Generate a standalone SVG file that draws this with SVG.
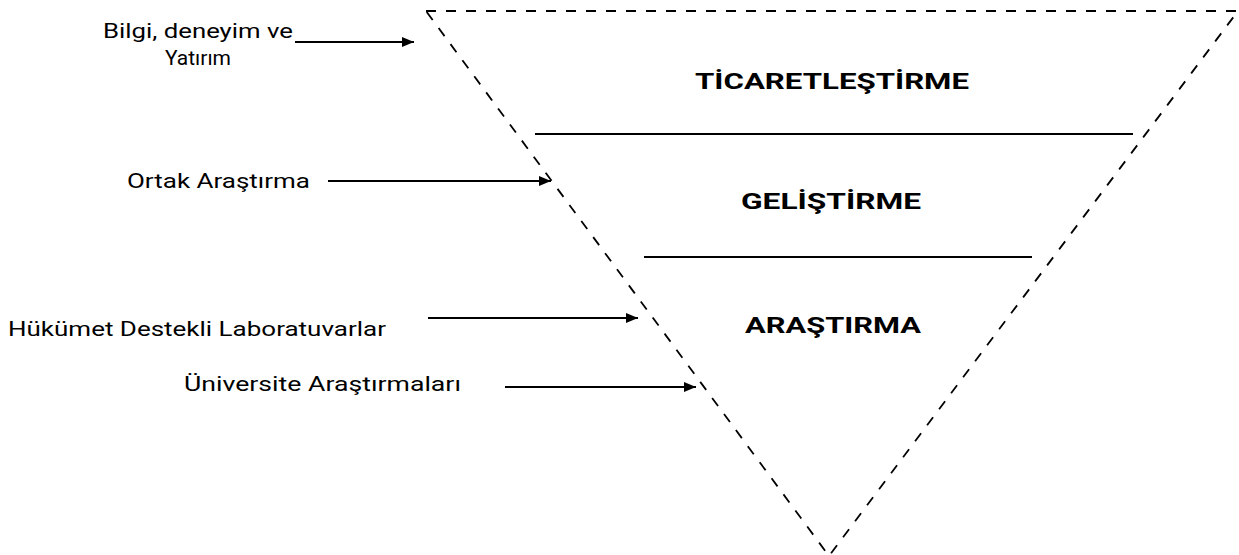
<svg xmlns="http://www.w3.org/2000/svg" width="1239" height="555" viewBox="0 0 1239 555">
<style>
.lbl{font-family:Roboto,"Liberation Sans",Arial,sans-serif;font-size:21px;fill:#000}
.hd{font-family:Roboto,"Liberation Sans",Arial,sans-serif;font-size:22px;font-weight:bold;fill:#000;text-anchor:middle}
.arr{stroke:#000;stroke-width:2;fill:none;marker-end:url(#ah)}
.div{stroke:#000;stroke-width:2}
</style>
<defs>
<marker id="ah" viewBox="0 0 12 10" refX="12" refY="5" markerWidth="12" markerHeight="10" markerUnits="userSpaceOnUse" orient="auto">
<path d="M0,0 L12,5 L0,10 Z" fill="#000"/>
</marker>
</defs>
<rect width="1239" height="555" fill="#fff"/>
<g id="pyramid">
<path d="M426,11 L1238,11 L829,556 Z" fill="none" stroke="#000" stroke-width="1.8" stroke-dasharray="10,10"/>
<line class="div" x1="535" y1="134" x2="1133" y2="134"/>
<line class="div" x1="644" y1="257" x2="1032" y2="257"/>
</g>
<g id="ticaret"><text class="hd" x="832" y="89" textLength="274" lengthAdjust="spacingAndGlyphs">TİCARETLEŞTİRME</text></g>
<g id="gelistirme"><text class="hd" x="831" y="209" textLength="180" lengthAdjust="spacingAndGlyphs">GELİŞTİRME</text></g>
<g id="arastirma"><text class="hd" x="833" y="333" textLength="176" lengthAdjust="spacingAndGlyphs">ARAŞTIRMA</text></g>
<g id="bilgi">
<text class="lbl" x="103" y="38" textLength="190" lengthAdjust="spacingAndGlyphs">Bilgi, deneyim ve</text>
<text class="lbl" x="198" y="65" text-anchor="middle">Yatırım</text>
</g>
<g id="ortak"><text class="lbl" x="127" y="188" textLength="183" lengthAdjust="spacingAndGlyphs">Ortak Araştırma</text></g>
<g id="hukumet"><text class="lbl" x="8" y="336" textLength="378" lengthAdjust="spacingAndGlyphs">Hükümet Destekli Laboratuvarlar</text></g>
<g id="universite"><text class="lbl" x="184" y="391" textLength="277" lengthAdjust="spacingAndGlyphs">Üniversite Araştırmaları</text></g>
<g id="connectors">
<line class="arr" x1="295" y1="42" x2="414" y2="42"/>
<line class="arr" x1="328" y1="181" x2="551" y2="181"/>
<line class="arr" x1="428" y1="318" x2="638" y2="318"/>
<line class="arr" x1="505" y1="387" x2="696" y2="387"/>
</g>
</svg>
